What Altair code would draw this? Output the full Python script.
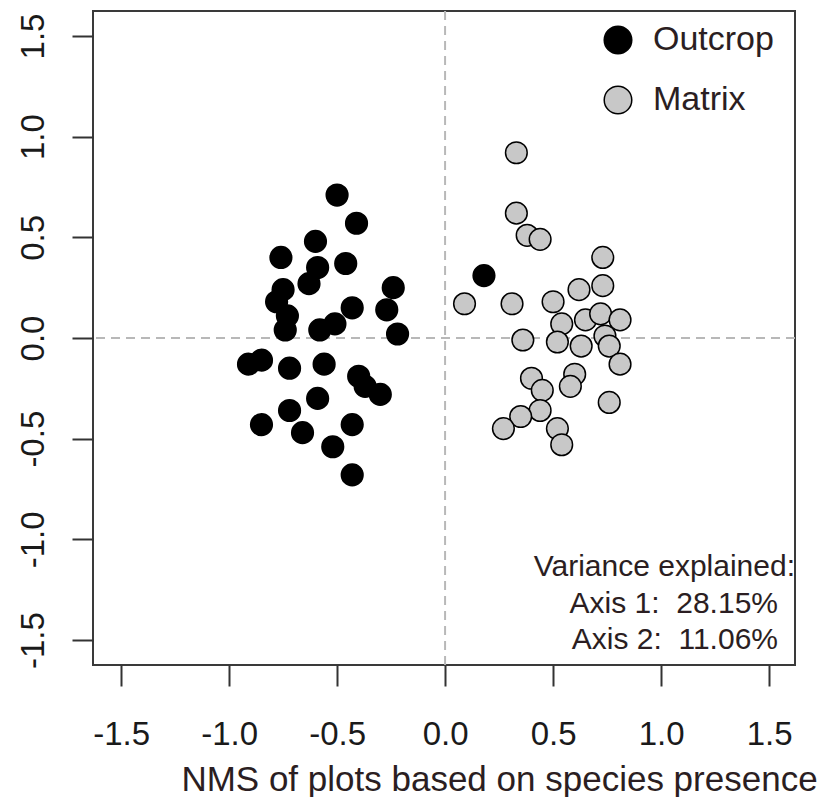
import altair as alt
import pandas as pd

# ---- data ----
outcrop_x = [-0.50, -0.41, -0.60, -0.76, -0.59, -0.46, -0.63, -0.75, -0.78, -0.24,
             -0.27, -0.43, -0.73, -0.51, -0.58, -0.74, -0.22, -0.91, -0.85, -0.72,
             -0.56, -0.40, -0.37, -0.30, -0.59, -0.72, -0.85, -0.66, -0.43, -0.52,
             -0.43, 0.18]
outcrop_y = [0.71, 0.57, 0.48, 0.40, 0.35, 0.37, 0.27, 0.24, 0.18, 0.25,
             0.14, 0.15, 0.11, 0.07, 0.04, 0.04, 0.02, -0.13, -0.11, -0.15,
             -0.13, -0.19, -0.24, -0.28, -0.30, -0.36, -0.43, -0.47, -0.43, -0.54,
             -0.68, 0.31]
matrix_x = [0.33, 0.33, 0.38, 0.44, 0.73, 0.73, 0.62, 0.09, 0.31, 0.50,
            0.54, 0.65, 0.72, 0.81, 0.36, 0.52, 0.63, 0.74, 0.76, 0.81,
            0.60, 0.40, 0.58, 0.45, 0.76, 0.44, 0.35, 0.27, 0.52, 0.54]
matrix_y = [0.92, 0.62, 0.51, 0.49, 0.40, 0.26, 0.24, 0.17, 0.17, 0.18,
            0.07, 0.09, 0.12, 0.09, -0.01, -0.02, -0.04, 0.01, -0.04, -0.13,
            -0.18, -0.20, -0.24, -0.26, -0.32, -0.36, -0.39, -0.45, -0.45, -0.53]
groups = ["Outcrop", "Matrix"]
group_colors = ["#000000", "#c8c8c8"]
x_ticks = [-1.5, -1.0, -0.5, 0.0, 0.5, 1.0, 1.5]
y_ticks = [-1.5, -1.0, -0.5, 0.0, 0.5, 1.0, 1.5]
x_title = "NMS of plots based on species presence"
variance_title = "Variance explained:"
variance_lines = ["Axis 1:\u00a0 28.15%", "Axis 2:\u00a0 11.06%"]

df = pd.DataFrame({
    "x": outcrop_x + matrix_x,
    "y": outcrop_y + matrix_y,
    "group": [groups[0]] * len(outcrop_x) + [groups[1]] * len(matrix_x),
})

FONT = "Liberation Sans"
TXT = "#2b1e22"

xscale = alt.Scale(domain=[-1.63, 1.62], nice=False, zero=False)
yscale = alt.Scale(domain=[-1.624, 1.624], nice=False, zero=False)
label_expr = "(datum.value < 0 ? '-' : '') + format(abs(datum.value), '.1f')"
xaxis = alt.Axis(values=x_ticks, labelExpr=label_expr, grid=False, domain=False,
                 tickSize=21, tickWidth=2, tickColor="#333333",
                 labelFont=FONT, labelFontSize=33, labelColor="#1a1a1a",
                 labelBaseline="alphabetic", labelPadding=58,
                 labelFlush=False, labelOverlap=False,
                 title=x_title, titleFont=FONT, titleFontSize=35,
                 titleFontWeight="normal", titleColor=TXT,
                 titleX=406, titleY=125, titleAlign="center",
                 titleBaseline="alphabetic")
yaxis = alt.Axis(values=y_ticks, labelExpr=label_expr, grid=False, domain=False,
                 tickSize=21, tickWidth=2, tickColor="#333333",
                 labelFont=FONT, labelFontSize=33, labelColor="#1a1a1a",
                 labelAngle=270, labelAlign="center", labelBaseline="alphabetic",
                 labelPadding=29, labelFlush=False, labelOverlap=False,
                 title=None)

dash = dict(color="#b8b8b8", strokeWidth=2, strokeDash=[9, 6])
vline = alt.Chart(pd.DataFrame({"x": [0.0]})).mark_rule(**dash).encode(
    x=alt.X("x:Q", scale=xscale, axis=xaxis))
hline = alt.Chart(pd.DataFrame({"y": [0.0]})).mark_rule(**dash).encode(
    y=alt.Y("y:Q", scale=yscale, axis=yaxis))

points = alt.Chart(df).mark_circle(size=470, stroke="black", strokeWidth=1.5,
                                   opacity=1).encode(
    x=alt.X("x:Q", scale=xscale, axis=xaxis),
    y=alt.Y("y:Q", scale=yscale, axis=yaxis),
    fill=alt.Fill("group:N", sort=groups,
                  scale=alt.Scale(domain=groups, range=group_colors),
                  legend=alt.Legend(title=None, orient="none", legendX=508,
                                    legendY=12, padding=0, symbolType="circle",
                                    symbolSize=760, symbolStrokeColor="black",
                                    symbolStrokeWidth=1.5, labelFont=FONT,
                                    labelFontSize=34, labelColor=TXT,
                                    labelOffset=18, rowPadding=26)),
)

vt = alt.Chart(pd.DataFrame({"t": [variance_title]})).mark_text(
    font=FONT, fontSize=30, color=TXT, align="right", baseline="alphabetic"
).encode(text="t:N", x=alt.value(702), y=alt.value(565))

vl = alt.Chart(pd.DataFrame({"t": [0]})).mark_text(
    text=variance_lines, font=FONT, fontSize=30, color=TXT, align="right",
    baseline="alphabetic", lineHeight=36
).encode(x=alt.value(685), y=alt.value(602))

chart = alt.layer(vline, hline, points, vt, vl).properties(
    width=702, height=654,
    padding={"left": 85, "top": 3, "right": 24, "bottom": 133},
    autosize=alt.AutoSizeParams(type="none"),
).configure_view(stroke="#3a3a3a", strokeWidth=2)

chart.save("out.html", embed_options={"renderer": "svg", "actions": False})
